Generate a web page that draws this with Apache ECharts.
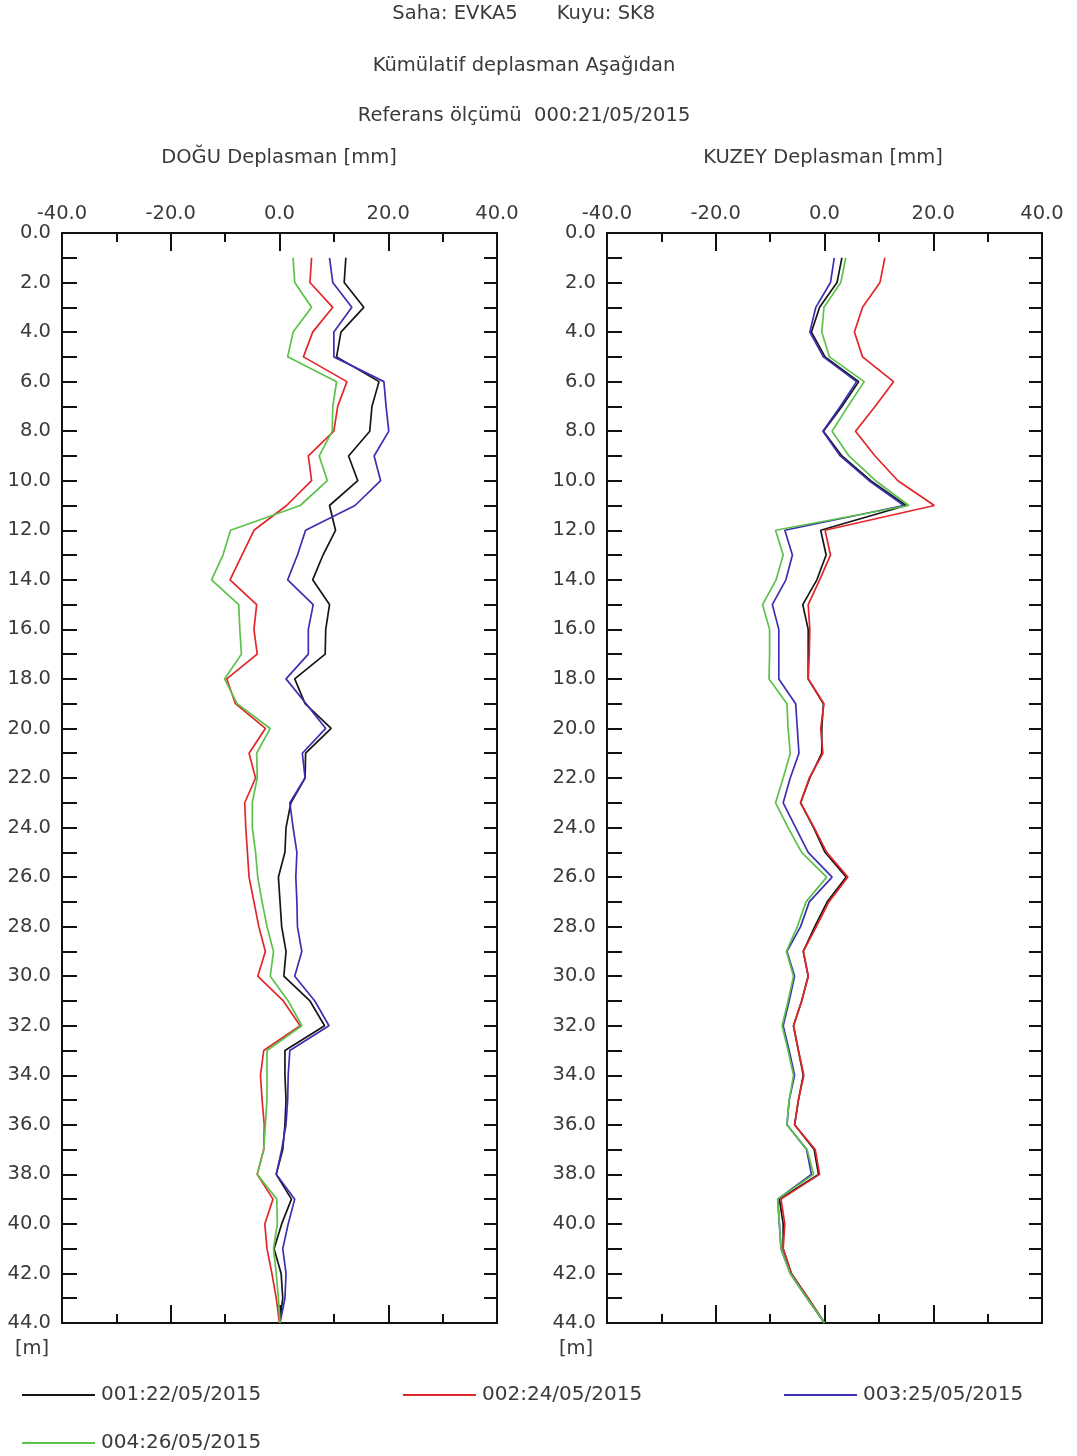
<!DOCTYPE html>
<html>
<head>
<meta charset="utf-8">
<script src="https://cdn.jsdelivr.net/npm/echarts@6/dist/echarts.min.js"></script>
<style>
  html, body { margin: 0; padding: 0; background: #fff; }
  #chart { width: 1077px; height: 1456px; }
</style>
</head>
<body>
<div id="chart"></div>
<script>
// Depths of the readings [m]
const depths = [1, 2, 3, 4, 5, 6, 7, 8, 9, 10, 11, 12, 13, 14, 15, 16, 17, 18, 19, 20, 21, 22,
  23, 24, 25, 26, 27, 28, 29, 30, 31, 32, 33, 34, 35, 36, 37, 38, 39, 40, 41, 42, 43, 44];

// Reading names (measurement number : date)
const readings = ['001:22/05/2015', '002:24/05/2015', '003:25/05/2015', '004:26/05/2015'];
const readingColors = ['#161616', '#e2262b', '#3b30b2', '#5cc24a'];

// Cumulative displacement, east (DOĞU) [mm]
const east001 = [12.2, 11.9, 15.5, 11.3, 10.5, 18.3, 17.0, 16.6, 12.7, 14.4, 9.2, 10.3, 8.0, 6.1, 9.2, 8.5, 8.4, 2.8, 4.7, 9.5, 4.8, 4.7,
  2.1, 1.2, 1.0, -0.2, 0.1, 0.4, 1.2, 0.8, 5.6, 8.3, 1.0, 1.0, 1.2, 1.0, 0.6, -0.6, 2.2, 0.4, -1.0, 0.3, 0.6, 0.0];
const east002 = [5.9, 5.6, 9.8, 6.1, 4.4, 12.4, 10.7, 10.0, 5.3, 5.9, 1.3, -4.7, -6.9, -9.1, -4.2, -4.7, -4.1, -9.7, -8.1, -2.6, -5.6, -4.4,
  -6.4, -6.2, -5.9, -5.6, -4.7, -3.8, -2.6, -4.0, 0.7, 3.8, -2.9, -3.5, -3.2, -2.8, -2.9, -4.1, -1.2, -2.7, -2.3, -1.4, -0.6, 0.0];
const east003 = [9.2, 9.8, 13.3, 10.0, 10.0, 19.2, 19.6, 20.1, 17.4, 18.6, 13.9, 4.8, 3.3, 1.5, 6.2, 5.3, 5.3, 1.2, 4.9, 8.5, 4.2, 4.7,
  1.9, 2.5, 3.2, 3.0, 3.2, 3.3, 4.1, 2.8, 6.5, 9.1, 1.9, 1.6, 1.5, 1.2, 0.4, -0.6, 2.8, 1.6, 0.6, 1.2, 1.0, 0.1];
const east004 = [2.5, 2.8, 5.9, 2.5, 1.5, 10.5, 9.8, 9.7, 7.3, 8.8, 3.8, -9.0, -10.4, -12.5, -7.5, -7.3, -7.0, -10.1, -7.8, -1.7, -4.2, -4.1,
  -5.0, -5.0, -4.4, -4.0, -3.2, -2.3, -1.1, -1.7, 1.6, 4.1, -2.3, -2.3, -2.3, -2.6, -2.9, -4.1, -0.5, -0.4, -1.1, -0.6, -0.2, 0.1];

// Cumulative displacement, north (KUZEY) [mm]
const north001 = [3.2, 2.3, -0.9, -2.4, 0.1, 6.3, 3.2, -0.2, 3.2, 8.5, 15.0, -0.7, 0.3, -1.4, -4.0, -3.0, -3.0, -3.0, -0.2, -0.5, -0.5, -2.7,
  -4.4, -2.0, 0.1, 4.0, 0.5, -1.8, -3.9, -3.0, -4.2, -5.7, -4.8, -3.9, -4.8, -5.5, -1.9, -1.1, -8.3, -7.6, -7.6, -6.1, -3.0, 0.0];
const north002 = [11.1, 10.2, 7.0, 5.5, 7.0, 12.7, 9.3, 5.7, 9.3, 13.5, 20.2, 0.1, 1.1, -0.9, -3.0, -2.7, -2.8, -3.0, -0.1, -0.7, -0.3, -2.8,
  -4.4, -1.9, 0.4, 4.3, 0.8, -1.5, -3.9, -3.0, -4.2, -5.7, -4.8, -3.8, -4.8, -5.5, -1.7, -0.9, -8.0, -7.3, -7.6, -6.1, -3.0, 0.0];
const north003 = [1.8, 1.1, -1.6, -2.7, -0.2, 5.9, 2.9, -0.3, 2.9, 8.2, 14.6, -7.3, -5.9, -7.1, -9.6, -8.4, -8.4, -8.4, -5.3, -5.0, -4.7, -6.3,
  -7.6, -5.3, -3.0, 1.4, -2.8, -4.4, -6.9, -5.5, -6.5, -7.6, -6.5, -5.5, -6.5, -6.9, -3.3, -2.4, -8.6, -8.3, -8.0, -6.3, -3.2, 0.0];
const north004 = [3.9, 3.0, -0.1, -0.5, 0.9, 7.3, 4.3, 1.4, 4.5, 9.4, 15.5, -9.0, -7.6, -8.9, -11.4, -10.1, -10.1, -10.2, -6.9, -6.7, -6.3, -7.6,
  -9.0, -6.7, -4.2, 0.4, -3.4, -5.0, -7.0, -5.7, -6.7, -7.8, -6.7, -5.7, -6.5, -6.9, -3.2, -2.0, -8.6, -8.3, -8.0, -6.3, -3.2, 0.0];

// Axis tick values
const displacementTicks = [-40, -20, 0, 20, 40];
const depthTicks = [0, 2, 4, 6, 8, 10, 12, 14, 16, 18, 20, 22, 24, 26, 28, 30, 32, 34, 36, 38, 40, 42, 44];

const eastSets = [east001, east002, east003, east004];
const northSets = [north001, north002, north003, north004];

const FONT = 'DejaVu Sans';
const TEXT_COLOR = '#3a3a3a';
const FRAME = { color: '#111', width: 2 };

const grids = [
  { left: 62, top: 233, width: 435, height: 1090 },
  { left: 607, top: 233, width: 435, height: 1090 }
];

function xAxes(gridIndex, withLabels) {
  const dMin = displacementTicks[0];
  const dMax = displacementTicks[displacementTicks.length - 1];
  const common = {
    type: 'value', gridIndex, min: dMin, max: dMax, interval: displacementTicks[1] - displacementTicks[0],
    axisLine: { show: true, onZero: false, lineStyle: FRAME },
    axisTick: { show: true, inside: true, length: 18, lineStyle: FRAME },
    minorTick: { show: true, splitNumber: 2, length: 9, lineStyle: FRAME },
    splitLine: { show: false }
  };
  return [
    Object.assign({}, common, {
      position: 'top',
      axisLabel: { show: withLabels, margin: 9, fontFamily: FONT, fontSize: 19.5, color: TEXT_COLOR,
        formatter: v => v.toFixed(1) }
    }),
    Object.assign({}, common, { position: 'bottom', axisLabel: { show: false } })
  ];
}

function yAxes(gridIndex) {
  const common = {
    type: 'value', gridIndex, inverse: true, min: depthTicks[0], max: depthTicks[depthTicks.length - 1],
    interval: depthTicks[1] - depthTicks[0],
    axisLine: { show: true, onZero: false, lineStyle: FRAME },
    splitLine: { show: false }
  };
  return [
    Object.assign({}, common, {
      position: 'left',
      axisTick: { show: true, inside: true, length: 15, lineStyle: FRAME },
      minorTick: { show: true, splitNumber: 2, length: 15, lineStyle: FRAME },
      axisLabel: { margin: 11, fontFamily: FONT, fontSize: 19.5, color: TEXT_COLOR, formatter: v => v.toFixed(1) }
    }),
    Object.assign({}, common, {
      position: 'right',
      axisTick: { show: true, inside: true, length: 13, lineStyle: FRAME },
      minorTick: { show: true, splitNumber: 2, length: 13, lineStyle: FRAME },
      axisLabel: { show: false }
    })
  ];
}

function profileSeries(sets, axisIndex) {
  return sets.map((vals, i) => ({
    name: readings[i],
    type: 'line',
    xAxisIndex: axisIndex,
    yAxisIndex: axisIndex,
    color: readingColors[i],
    showSymbol: false,
    symbol: 'none',
    lineStyle: { width: 1.7, color: readingColors[i] },
    data: vals.map((v, k) => [v, depths[k]])
  }));
}

const legendSpots = [
  { left: 17, top: 1379 },
  { left: 398, top: 1379 },
  { left: 779, top: 1379 },
  { left: 17, top: 1427 }
];

const legends = readings.map((name, i) => ({
  data: [{ name, icon: 'rect' }],
  left: legendSpots[i].left,
  top: legendSpots[i].top,
  itemWidth: 73,
  itemHeight: 2,
  selectedMode: false,
  textStyle: { fontFamily: FONT, fontSize: 20, color: TEXT_COLOR, padding: [0, 0, 0, 1], lineHeight: 22 }
}));

function label(text, x, y, align, size) {
  return {
    type: 'text', x, y,
    style: { text, fontFamily: FONT, fontSize: size || 19.5, fill: TEXT_COLOR, textAlign: align || 'center', textVerticalAlign: 'middle' }
  };
}

const chart = echarts.init(document.getElementById('chart'), null, { renderer: 'canvas' });
chart.setOption({
  animation: false,
  backgroundColor: '#ffffff',
  grid: grids,
  xAxis: [...xAxes(0, true), ...xAxes(1, true)],
  yAxis: [...yAxes(0), ...yAxes(1)],
  legend: legends,
  series: [...profileSeries(eastSets, 0), ...profileSeries(northSets, 2)],
  graphic: [
    label('Saha: EVKA5', 455, 14),
    label('Kuyu: SK8', 606, 14),
    label('Kümülatif deplasman Aşağıdan', 524, 66),
    label('Referans ölçümü  000:21/05/2015', 524, 116),
    label('DOĞU Deplasman [mm]', 279, 158),
    label('KUZEY Deplasman [mm]', 823, 158),
    label('[m]', 15, 1349, 'left'),
    label('[m]', 559, 1349, 'left')
  ]
});
</script>
</body>
</html>
